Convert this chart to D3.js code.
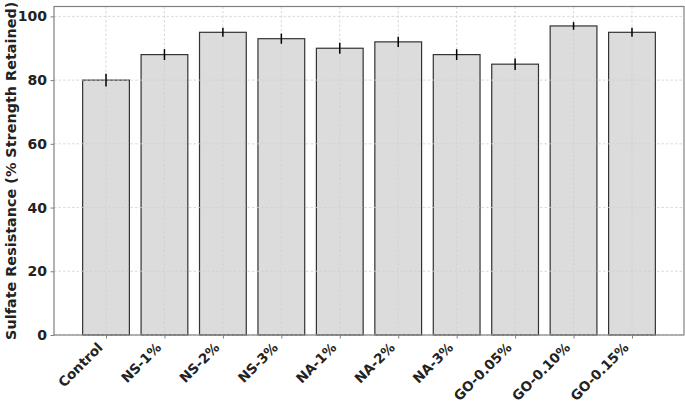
<!DOCTYPE html>
<html>
<head>
<meta charset="utf-8">
<script src="https://cdn.jsdelivr.net/npm/d3@7"></script>
<style>
  body { margin: 0; background: #fff; }
  svg { display: block; font-family: "DejaVu Sans", sans-serif; }
</style>
</head>
<body>
<div id="chart"></div>
<script>
const categories = ["Control", "NS-1%", "NS-2%", "NS-3%", "NA-1%", "NA-2%", "NA-3%", "GO-0.05%", "GO-0.10%", "GO-0.15%"];
const values     = [80, 88, 95, 93, 90, 92, 88, 85, 97, 95];
const errors     = [2, 1.7, 1.4, 1.6, 1.7, 1.6, 1.7, 1.8, 1.2, 1.4];
const yTicks     = [0, 20, 40, 60, 80, 100];

const FONT = "'DejaVu Sans', sans-serif";
const W = 685, H = 404;
const margin = { top: 6.5, right: 1, bottom: 69, left: 54 };
const chartW = W - margin.left - margin.right;
const chartH = H - margin.top - margin.bottom;

const svg = d3.select("#chart").append("svg")
  .attr("width", W).attr("height", H);

const g = svg.append("g").attr("transform", `translate(${margin.left},${margin.top})`);

// index-based x scale like matplotlib's categorical axis
const x = d3.scaleLinear().domain([-0.89, categories.length - 1 + 0.89]).range([0, chartW]);
const y = d3.scaleLinear().domain([0, 103.1]).range([chartH, 0]);
const step = x(1) - x(0);
const barW = step * 0.8;

// Bars
g.append("g").selectAll("rect")
  .data(values)
  .join("rect")
  .attr("x", (d, i) => x(i) - barW / 2)
  .attr("y", d => y(d))
  .attr("width", barW)
  .attr("height", d => y(0) - y(d))
  .attr("fill", "#dcdcdc")
  .attr("stroke", "#333")
  .attr("stroke-width", 1.2);

// Grid (drawn over the bars, as in the source)
const grid = g.append("g");
yTicks.forEach(t => {
  grid.append("line")
    .attr("x1", 0).attr("x2", chartW)
    .attr("y1", y(t)).attr("y2", y(t))
    .attr("stroke", "#cfcfcf").attr("stroke-width", 0.8)
    .attr("stroke-dasharray", "2.5,2");
});
categories.forEach((c, i) => {
  grid.append("line")
    .attr("x1", x(i)).attr("x2", x(i))
    .attr("y1", 0).attr("y2", chartH)
    .attr("stroke", "#cfcfcf").attr("stroke-width", 0.8)
    .attr("stroke-dasharray", "2.5,2");
});

// Error bars
g.append("g").selectAll("line")
  .data(values)
  .join("line")
  .attr("x1", (d, i) => x(i)).attr("x2", (d, i) => x(i))
  .attr("y1", (d, i) => y(d + errors[i]))
  .attr("y2", (d, i) => y(d - errors[i]))
  .attr("stroke", "#000").attr("stroke-width", 1.5);

// Frame
g.append("rect")
  .attr("x", 0).attr("y", 0)
  .attr("width", chartW).attr("height", chartH)
  .attr("fill", "none").attr("stroke", "#808080").attr("stroke-width", 1.2);

// Y axis
const yAxis = g.append("g")
  .call(d3.axisLeft(y).tickValues(yTicks).tickSize(3.5).tickPadding(3.5));
yAxis.attr("font-family", FONT);
yAxis.select(".domain").remove();
yAxis.selectAll(".tick line").attr("stroke", "#808080");
yAxis.selectAll(".tick text")
  .style("font-family", FONT)
  .style("font-size", "14px").style("font-weight", "bold").attr("fill", "#222");

// X axis
const xAxis = g.append("g").attr("transform", `translate(0,${chartH})`)
  .call(d3.axisBottom(x).tickValues(d3.range(categories.length)).tickFormat(i => categories[i]).tickSize(3.5));
xAxis.attr("font-family", FONT);
xAxis.select(".domain").remove();
xAxis.selectAll(".tick line").attr("stroke", "#808080");
xAxis.selectAll(".tick text")
  .style("font-family", FONT)
  .style("font-size", "13.5px").style("font-weight", "bold").attr("fill", "#222")
  .attr("text-anchor", "end")
  .attr("dy", null).attr("y", null)
  .attr("transform", "translate(-3,13.5) rotate(-45)");

// Y label
svg.append("text")
  .attr("transform", `translate(11,${margin.top + chartH / 2}) rotate(-90)`)
  .attr("text-anchor", "middle")
  .attr("dy", "0.35em")
  .style("font-family", FONT)
  .style("font-size", "14.4px").style("font-weight", "bold").attr("fill", "#222")
  .text("Sulfate Resistance (% Strength Retained)");
</script>
</body>
</html>
